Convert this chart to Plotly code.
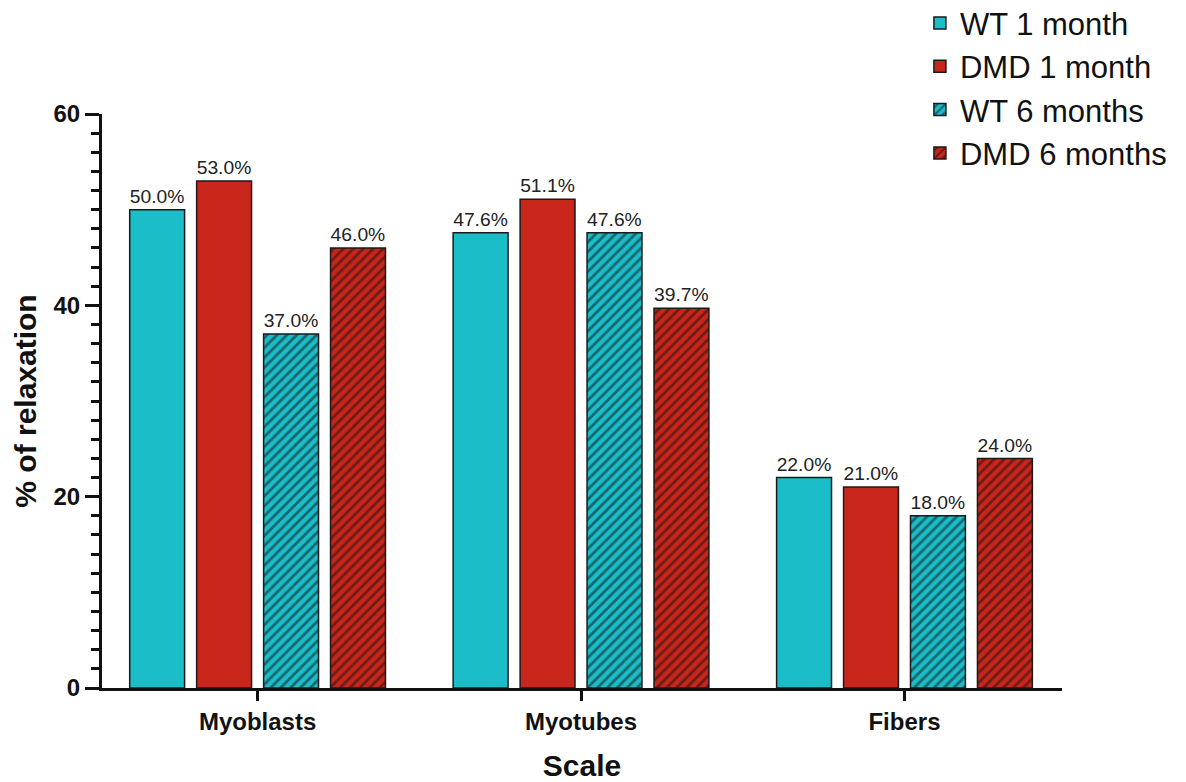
import plotly.graph_objects as go

categories = ["Myoblasts", "Myotubes", "Fibers"]
series_names = ["WT 1 month", "DMD 1 month", "WT 6 months", "DMD 6 months"]
wt_1m = [50.0, 47.6, 22.0]
dmd_1m = [53.0, 51.1, 21.0]
wt_6m = [37.0, 47.6, 18.0]
dmd_6m = [46.0, 39.7, 24.0]
y_ticks = [0, 20, 40, 60]

CYAN = "#1BBDC9"
RED = "#C9261B"
series_values = [wt_1m, dmd_1m, wt_6m, dmd_6m]
series_colors = [CYAN, RED, CYAN, RED]
series_hatch = ["", "", "/", "/"]

FONT = "Liberation Sans, Arial"

fig = go.Figure()
for name, vals, col, hatch in zip(series_names, series_values, series_colors, series_hatch):
    fig.add_trace(go.Bar(
        x=categories, y=vals, name=name,
        marker=dict(
            color=col,
            line=dict(color="#1a1a1a", width=1.5),
            pattern=dict(shape=hatch, fgcolor="#111111", bgcolor=col, size=7, solidity=0.4),
        ),
        text=[f"{v:.1f}%" for v in vals],
        textposition="outside",
        textfont=dict(family=FONT, size=20, color="#222222"),
        cliponaxis=False,
    ))

fig.update_layout(
    width=1178, height=774,
    margin=dict(l=94, r=124, t=106, b=94, autoexpand=False),
    plot_bgcolor="white", paper_bgcolor="white",
    barmode="group", bargap=0.172, bargroupgap=0.18,
    font=dict(family=FONT, color="#111111"),
    legend=dict(
        x=0.852, y=1.205, xanchor="left", yanchor="top",
        font=dict(size=31, color="#111111"),
        bgcolor="rgba(0,0,0,0)", traceorder="normal",
    ),
)
fig.update_xaxes(
    range=[-0.481, 2.487], automargin=False,
    showline=True, linecolor="#111111", linewidth=3,
    ticks="outside", ticklen=10, tickwidth=3, tickcolor="#111111",
    tickfont=dict(size=24, family=FONT, color="#111111", weight="bold"),
    title=dict(text="<b>Scale</b>", font=dict(size=30, color="#111111"), standoff=23),
    showgrid=False, zeroline=False,
)
fig.update_yaxes(
    range=[0, 60], automargin=False,
    tickvals=y_ticks,
    showline=True, linecolor="#111111", linewidth=3,
    ticks="outside", ticklen=14, tickwidth=3, tickcolor="#111111",
    minor=dict(dtick=2, ticks="outside", ticklen=8, tickwidth=3, tickcolor="#111111"),
    tickfont=dict(size=24, family=FONT, color="#111111", weight="bold"),
    title=dict(text="<b>% of relaxation</b>", font=dict(size=30, color="#111111"), standoff=8),
    showgrid=False, zeroline=False,
)

fig.write_html("out.html")
